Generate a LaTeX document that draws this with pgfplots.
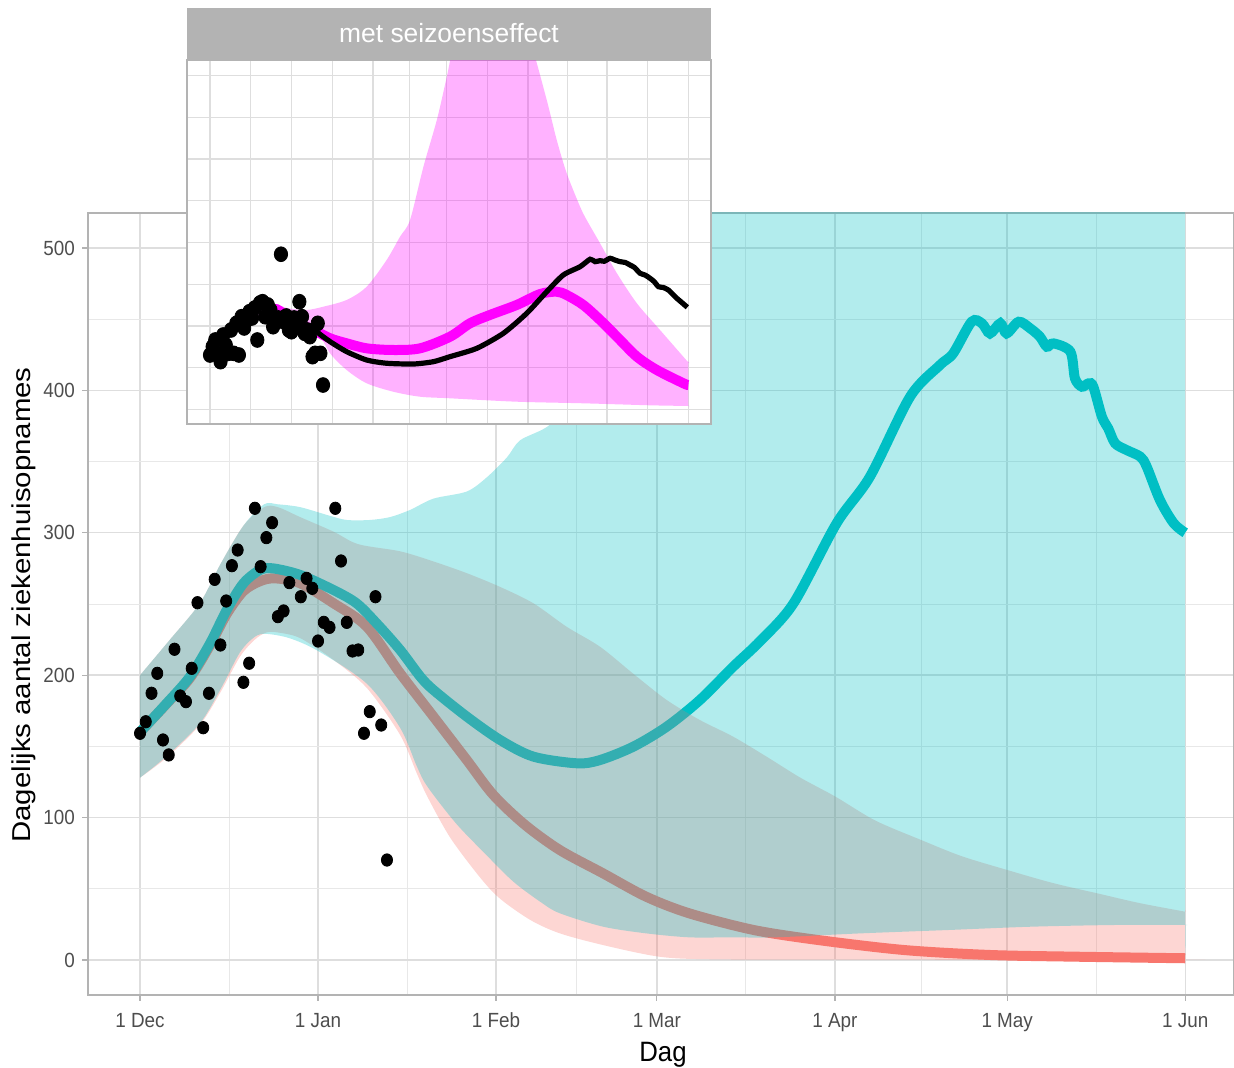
\documentclass[border=0pt]{standalone}
\usepackage{fontspec}
\setmainfont{Liberation Sans}
\newfontfamily\sqfont{Liberation Sans}[FakeStretch=0.92]
\usepackage{pgfplots}
\pgfplotsset{compat=1.18}
\definecolor{cyanc}{HTML}{00BFC4}
\definecolor{redc}{HTML}{F8766D}
\definecolor{magc}{HTML}{FF00FF}
\definecolor{grey70}{HTML}{B3B3B3}
\definecolor{grey87}{HTML}{DEDEDE}
\definecolor{grey30}{HTML}{4D4D4D}
\begin{document}
\begin{tikzpicture}
% ---------------- main panel ----------------
\begin{axis}[
  at={(44pt,36.5pt)}, anchor=south west, scale only axis,
  width=573pt, height=391pt,
  xmin=-9.06, xmax=190.5, ymin=-24.6, ymax=524.6,
  xtick={0,31,62,90,121,151,182},
  xticklabels={1 Dec,1 Jan,1 Feb,1 Mar,1 Apr,1 May,1 Jun},
  minor xtick={15.5,46.5,76,105.5,136,166.5},
  ytick={0,100,200,300,400,500},
  yticklabels={0,100,200,300,400,500},
  minor ytick={50,150,250,350,450},
  grid=both,
  major grid style={draw=grey87, line width=0.7pt},
  minor grid style={draw=grey87!70!white, line width=0.4pt},
  axis line style={draw=grey70, line width=0.6pt},
  tick style={draw=grey70, line width=0.6pt},
  tick align=outside, major tick length=3pt, minor tick length=0pt,
  tick pos=left,
  /pgf/number format/assume math mode=true,
  ticklabel style={font=\sqfont\fontsize{10.25}{12}\selectfont, text=grey30},
  xticklabel style={yshift=-2.5pt},
]
% lines first (ribbons are drawn over them)
\addplot[redc, line width=5pt, smooth, tension=0.5] coordinates {
(0,160) (4.65,180) (8.7,198) (12.2,221) (15.1,243) (18,259) (20.9,266) (23.5,268)
(27.9,264.5) (33.7,250.5) (39.5,234) (45.3,201.3) (51.1,170.9) (56.9,140.4)
(61.5,116) (67,95) (73.1,77.2) (80.6,60.9) (88.1,44.5) (95.6,32.8) (106.8,21.1)
(118.1,14) (133,7) (148,3.5) (163,2.3) (182,1.2)};
\addplot[cyanc, line width=5pt, smooth, tension=0.5] coordinates {
(0,160) (4.65,180.3) (8.7,199) (12.2,222.4) (15.1,245.8) (18,264.5) (20.9,273.9)
(23.2,275) (27.9,270.4) (33.7,259.8) (37.7,250.5) (41.2,236.4) (45.3,217.7)
(48.8,199) (51.1,189.6) (56.9,170.9) (62.7,154.5) (68.5,142.8) (76.1,138.1)
(80.1,140.4) (85.9,149.8) (91.7,163.8) (97.5,182.6) (103.3,206) (108,224)
(113.8,250.5) (121.3,306.7) (127.1,339.4) (134.1,395.6) (139.3,417.8) (141.6,426)
(144.8,448.2) (146.6,447.1) (148,440) (149.8,447.1) (150.9,440) (153,448.2)
(155,443.6) (156.7,437.7) (157.9,430.7) (159.1,433) (162,427.2) (162.8,408.5)
(164,402.6) (165.2,405) (166,402.6) (167.5,381.5) (168.6,373.3) (169.8,362.8)
(171.8,358.1) (174.2,353.4) (175.3,346.4) (177.6,323) (180,306.7) (182,300)};
% red ribbon: upper bound, then lower bound in reverse
\addplot[fill=redc, fill opacity=0.3, draw=none, smooth, tension=0.5] coordinates {
(0,200) (5,224) (10.4,250.5) (14,278) (18,305) (21.6,318) (24,318) (27.9,311)
(33.7,300.8) (38,292) (45.3,287) (51,280) (57,271.5) (62.7,262) (68.5,250.5)
(74.3,234) (80.1,220) (85.9,201) (91.7,182.6) (97.5,168.5) (103.3,156.8)
(109.1,142.8) (115,128) (121.1,114.7) (128,98) (136,84.3) (143,73) (151,63.2)
(159,54) (166.7,46.8) (174,40) (181.6,34.2) (182,33.9) (182,33) (182,1) (182,0.1)
(181.6,0.1) (120,0.2) (99.2,0.5) (90.4,2.3) (80.6,10.5) (73.1,18.7) (68,28)
(62.7,43) (59.2,58) (54,86) (50,115) (48.2,131) (45.3,158) (39.5,191)
(33.7,210.7) (27.9,226) (24,230) (22,230) (20,225) (17.4,213) (14,188)
(10.4,165) (4.6,142) (0,128)};
% cyan ribbon
\addplot[fill=cyanc, fill opacity=0.3, draw=none, smooth, tension=0.5] coordinates {
(0,200) (5,224) (10.4,250.5) (14,278) (18,305) (21.6,320) (24,320) (27.9,318)
(33,312) (36,309) (40,309) (43.5,311) (47,316) (51.1,324) (56.9,329) (60.4,339)
(63.9,353) (66.2,365) (71.4,376) (76,400) (82,450) (88,510) (93,570) (98,620)
(140,620) (181.6,620) (182,620) (182,619) (182,300) (182,25.6) (182,24.6)
(181.6,24.6) (170.5,24.6) (155.5,23.4) (140.5,21) (125.6,18.7) (110.6,15.9)
(103,15.9) (95.6,15.9) (88.1,18.7) (80.6,23.4) (73.1,32.8) (70,40) (65,55)
(60,75) (55,96) (50,122) (48.2,136) (45.3,163) (39.5,194) (31,217) (26,226)
(22,229) (20,227) (17.4,216) (14,190) (10.4,166) (4.6,143) (0,128)};
% observations
\addplot[only marks, mark=*, mark size=3.1pt,
  mark options={fill=black, draw=black, xscale=0.9}] coordinates {
(0,159.2) (1,167.3) (2,187.3) (3,201.3) (4,154.5) (5,144) (6,218.2) (7,185.4)
(8,181.4) (9,204.8) (10,250.9) (11,163.1) (12,187.3) (13,267.3) (14,221.2)
(15,252.1) (16,276.9) (17,287.9) (18,195) (19,208.4) (20,317.2) (21,276.2)
(22,296.6) (23,307.1) (24,241.1) (25,245.1) (26,265) (28,255.1) (29,268)
(30,261) (31,224) (32,237.1) (33,233.6) (34,317.2) (35,280.2) (36,237.1)
(37,217) (38,217.7) (39,159.2) (40,174.4) (41,255.1) (42,165) (43,70.2)};
\end{axis}
% axis titles
\node[rotate=90, anchor=base, font=\fontsize{14.7}{17}\selectfont] at (15.35pt,231.5pt)
  {\scalebox{1}[0.88]{Dagelijks aantal ziekenhuisopnames}};
\node[anchor=base, font=\sqfont\fontsize{14}{16}\selectfont] at (331.5pt,3.15pt) {Dag};
% ---------------- inset panel ----------------
\begin{axis}[
  at={(93.5pt,322pt)}, anchor=south west, scale only axis,
  width=262pt, height=182pt,
  xmin=-8.75, xmax=190.6, ymin=-17.6, ymax=418.8,
  axis background/.style={fill=white},
  xtick={0,31,62,90,121,151,182},
  minor xtick={15.5,46.5,76,105.5,136,166.5},
  ytick={0,100,200,300,400}, minor ytick={50,150,250,350},
  xticklabels={}, yticklabels={},
  major tick length=0pt, minor tick length=0pt,
  grid=both,
  major grid style={draw=grey87, line width=0.7pt},
  minor grid style={draw=grey87, line width=0.5pt},
  axis line style={draw=grey70, line width=0.6pt},
]
\addplot[fill=magc, fill opacity=0.3, draw=none, smooth, tension=0.5] coordinates {
(15,112) (20,122) (25.4,125.1) (30,121) (36.8,119.1) (43.1,123) (52,131.1)
(59.6,147) (67.2,179) (72.3,207) (76.1,227) (81.2,290.9) (86.3,346.9) (90.1,398.8)
(93,440) (100,500) (115,500) (122,440) (128.1,370.9) (131.9,323) (135.7,283)
(140.8,242.9) (143.3,227) (148.4,199) (154.8,163.1) (162.4,127.1) (171.2,95.1)
(181.6,57.6) (182,57.1) (182,56) (182,5) (182,4) (181.6,4.02)
(167.4,4.8) (142,7.2) (116.7,9.1) (91.3,13.2) (79.9,15.1) (69.7,21.1)
(59.6,31.2) (52,47.1) (45.7,67.1) (40.6,95.1) (36,100) (30,104) (25,106)
(20,108) (15,110)};
\addplot[magc, line width=5pt, smooth, tension=0.5] coordinates {
(20,121) (25.4,120) (28,114) (33,104) (39.3,95.1) (45.7,85.1) (52,79.1)
(59.6,73.1) (69.7,71.1) (79.9,73.1) (91.3,87) (98.9,103.1) (106.5,113.1)
(116.7,125.1) (125.6,138.2) (131.9,141) (135.7,137) (142,125.1) (148.4,107.1)
(154.8,87) (162.4,63.1) (170,47.1) (180.1,31.2) (182,29.1)};
\addplot[black, line width=2.6pt, smooth, tension=0.4] coordinates {
(39.3,99) (40.6,93) (45.7,81.1) (52,69.1) (59.6,59.1) (67.2,55.2) (77.4,54.3)
(85,57.1) (91.3,63.1) (101.5,73.1) (111.6,91.1) (120.5,115.1) (128.1,141)
(134.4,161) (140.8,171) (144.6,179.9) (146.5,177) (148.4,178.2) (150,177.5)
(152.2,181.1) (154,179) (156,177) (158,176) (159.8,173) (161.5,170) (163.6,163.1)
(165.5,161) (167.4,157.1) (169,153) (170.6,147) (172.5,146) (174.4,143) (176,138)
(177.6,133.1) (179.5,128) (181.6,122.3)};
\addplot[only marks, mark=*, mark size=3.7pt,
  mark options={fill=black, draw=black, xscale=0.9}] coordinates {
(0,65.1) (1,75.1) (2,83.1) (3,65.1) (4,57.1) (5,89.1) (6,77.1) (7,67.1) (8,95.1)
(9,67.1) (10,103.1) (11,65.1) (12,111) (13,97.5) (14,107.1) (15,117) (16,109.5)
(17,121.5) (18,83.1) (19,127.5) (20,129) (21,111) (22,125.1) (23,119.1) (24,99)
(25,107.1) (26,109.5) (27,185.9) (28,105) (29,111.9) (30,95.1) (31,93) (32,109.5)
(33,99) (34,129) (35,111) (36,91.1) (37,95.1) (38,87.1) (39,63.1) (40,67.1)
(41,103.1) (42,67.1) (43,29.1)};
\end{axis}
% facet strip
\fill[grey70] (93.5pt,504pt) rectangle (355.5pt,530pt);
\node[anchor=base, text=white, font=\fontsize{13.2}{15}\selectfont] at (224.5pt,512.75pt) {met seizoenseffect};
\pgfresetboundingbox
\useasboundingbox (0,0) rectangle (617pt,534pt);
\end{tikzpicture}
\end{document}
